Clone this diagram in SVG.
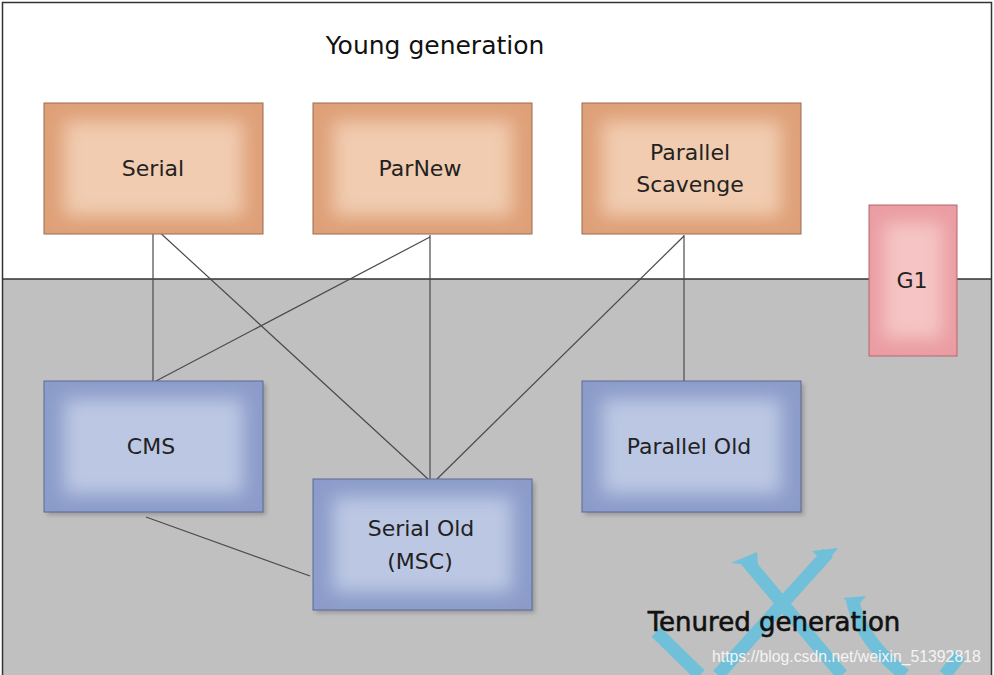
<svg xmlns="http://www.w3.org/2000/svg" width="994" height="675" viewBox="0 0 994 675">
<defs>
<filter id="soft" x="-20%" y="-20%" width="140%" height="140%"><feGaussianBlur stdDeviation="9"/></filter>
<filter id="shadow" x="-10%" y="-10%" width="130%" height="130%"><feGaussianBlur stdDeviation="2"/></filter>
<style>
.lbl{font-family:"DejaVu Sans","Liberation Sans",sans-serif;font-size:22px;fill:#222;text-anchor:middle}
.title{font-family:"DejaVu Sans","Liberation Sans",sans-serif;font-size:25px;fill:#111;text-anchor:middle}
.conn line{stroke:#4a4a4a;stroke-width:1.2}
.o-edge{fill:#dea078;stroke:#9b6b50;stroke-width:1}
.o-core{fill:#f1ccb0}
.b-edge{fill:#8c9cca;stroke:#5a6898;stroke-width:1}
.b-core{fill:#bcc8e3}
.p-edge{fill:#ea9ca2;stroke:#b8646c;stroke-width:1}
.p-core{fill:#f5c4c4}
.sh{fill:#6f6f6f;opacity:0.5}
.wm{stroke:#6cc0dc;stroke-width:13;fill:none}
</style>
</defs>
<rect x="0" y="0" width="994" height="675" fill="#ffffff"/>
<rect x="3" y="279" width="988" height="396" fill="#c0c0c0"/>
<line x1="3" y1="279" x2="991" y2="279" stroke="#333" stroke-width="1.5"/>
<rect x="2.5" y="2.5" width="989" height="680" fill="none" stroke="#333" stroke-width="1.5"/>

<text class="title" x="435" y="54">Young generation</text>

<g id="connectors" class="conn">
<line x1="153" y1="234" x2="153" y2="381"/>
<line x1="156" y1="229" x2="428" y2="479"/>
<line x1="430" y1="235" x2="430" y2="479"/>
<line x1="430" y1="237" x2="156" y2="381"/>
<line x1="684" y1="235" x2="684" y2="381"/>
<line x1="684" y1="236" x2="437" y2="479"/>
<line x1="146" y1="517" x2="310" y2="576"/>
</g>

<g id="serial">
<rect class="o-edge" x="44" y="103" width="219" height="131"/>
<rect class="o-core" x="64" y="121" width="179" height="95" filter="url(#soft)"/>
<text class="lbl" x="153" y="176">Serial</text>
</g>
<g id="parnew">
<rect class="o-edge" x="313" y="103" width="219" height="131"/>
<rect class="o-core" x="333" y="121" width="179" height="95" filter="url(#soft)"/>
<text class="lbl" x="420" y="176">ParNew</text>
</g>
<g id="parallel-scavenge">
<rect class="o-edge" x="582" y="103" width="219" height="131"/>
<rect class="o-core" x="602" y="121" width="179" height="95" filter="url(#soft)"/>
<text class="lbl" x="690" y="160">Parallel</text>
<text class="lbl" x="690" y="192">Scavenge</text>
</g>
<g id="g1">
<rect class="p-edge" x="869" y="205" width="88" height="151"/>
<rect class="p-core" x="883" y="222" width="60" height="117" filter="url(#soft)"/>
<text class="lbl" x="912" y="288">G1</text>
</g>
<g id="cms">
<rect class="sh" x="47" y="384" width="219" height="131" filter="url(#shadow)"/>
<rect class="b-edge" x="44" y="381" width="219" height="131"/>
<rect class="b-core" x="64" y="399" width="179" height="95" filter="url(#soft)"/>
<text class="lbl" x="151" y="454">CMS</text>
</g>
<g id="serial-old">
<rect class="sh" x="316" y="482" width="219" height="131" filter="url(#shadow)"/>
<rect class="b-edge" x="313" y="479" width="219" height="131"/>
<rect class="b-core" x="333" y="497" width="179" height="95" filter="url(#soft)"/>
<text class="lbl" x="421" y="536">Serial Old</text>
<text class="lbl" x="420" y="569">(MSC)</text>
</g>
<g id="parallel-old">
<rect class="sh" x="585" y="384" width="219" height="131" filter="url(#shadow)"/>
<rect class="b-edge" x="582" y="381" width="219" height="131"/>
<rect class="b-core" x="602" y="399" width="179" height="95" filter="url(#soft)"/>
<text class="lbl" x="689" y="454">Parallel Old</text>
</g>

<g id="watermark-logo" opacity="0.95">
<line class="wm" x1="746" y1="560" x2="842" y2="675"/>
<line class="wm" x1="828" y1="553" x2="718" y2="675"/>
<polygon points="731,563 757,552 758,566" fill="#6cc0dc"/>
<polygon points="812,551 838,548 826,564" fill="#6cc0dc"/>
<line class="wm" x1="656" y1="632" x2="700" y2="675"/>
<path class="wm" d="M852,598 Q860,640 905,675"/>
<line class="wm" x1="960" y1="655" x2="945" y2="675"/>
<polygon points="843,598 866,596 856,608" fill="#6cc0dc"/>
</g>
<text class="title" x="774" y="631" font-size="26" stroke="#111" stroke-width="0.6" style="font-size:26px">Tenured generation</text>
<text x="712" y="662" font-family="Liberation Sans,Arial,sans-serif" font-size="15.8" fill="#f4f4f4">https://blog.csdn.net/weixin_51392818</text>
</svg>
